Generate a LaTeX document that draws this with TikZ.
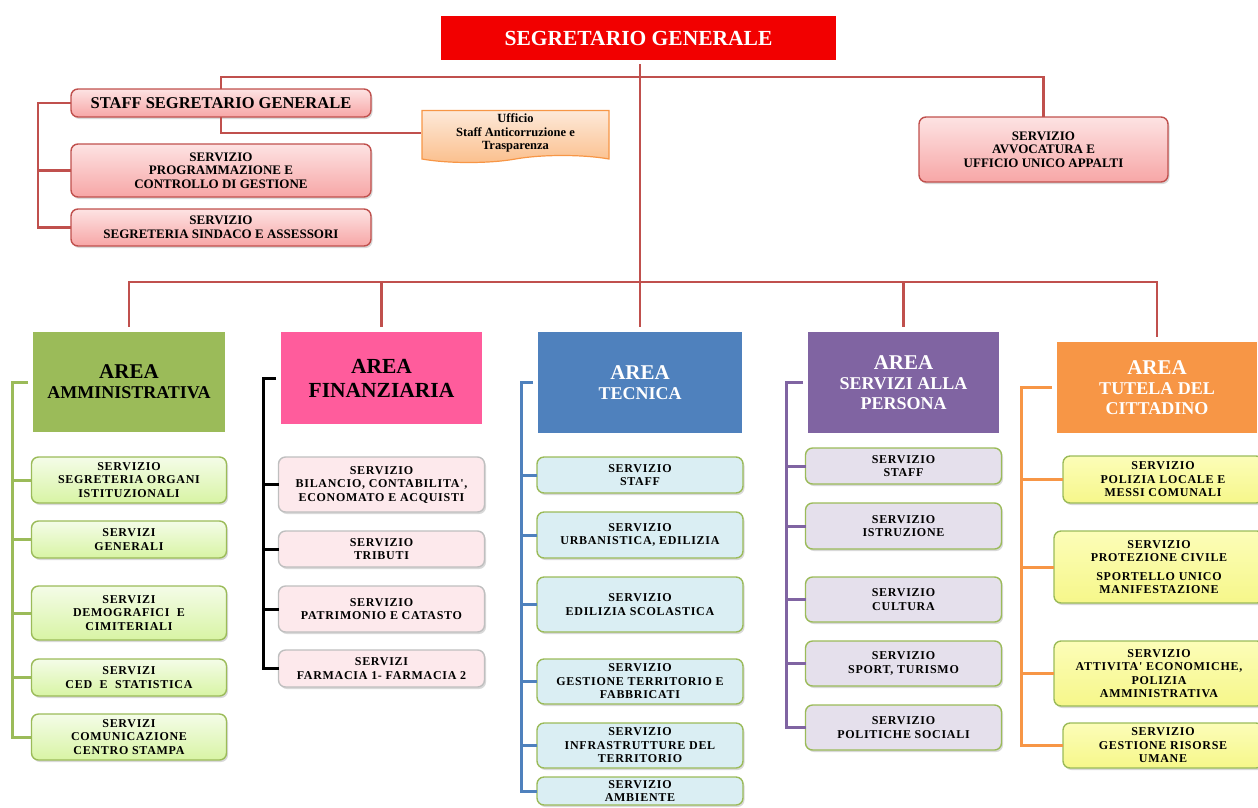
\documentclass[tikz,border=0pt]{standalone}
\usepackage{fontspec}
\setmainfont{Liberation Serif}
\newfontfamily\svcfont[LetterSpace=6]{Liberation Serif}
\usetikzlibrary{positioning, shadows, shapes.symbols}

\definecolor{sgred}{HTML}{F20000}
\definecolor{lnred}{HTML}{C0504D}
\definecolor{redlt}{HTML}{FDE3E3}
\definecolor{redmd}{HTML}{F7A6A6}
\definecolor{offlt}{HTML}{FDE9D9}
\definecolor{offmd}{HTML}{FBBF8C}
\definecolor{grn}{HTML}{9BBB59}
\definecolor{grnlt}{HTML}{F4FCE8}
\definecolor{grnmd}{HTML}{D8F4A4}
\definecolor{pnk}{HTML}{FF5C9C}
\definecolor{pnklt}{HTML}{FDE9EC}
\definecolor{blu}{HTML}{4F81BD}
\definecolor{blult}{HTML}{DAEEF3}
\definecolor{prp}{HTML}{8064A2}
\definecolor{prplt}{HTML}{E5E0EC}
\definecolor{orn}{HTML}{F79646}
\definecolor{ylwlt}{HTML}{FCFDB8}
\definecolor{ylwmd}{HTML}{F6F78A}

\newcommand{\areaword}{{\fontsize{21}{20}\selectfont AREA}}

\tikzset{%
	sgbox/.style={draw=white, line width=4pt, fill=sgred, text=white, minimum width=399pt,%
		minimum height=48pt, inner sep=0pt, font=\bfseries\fontsize{21.5}{24}\selectfont,%
		drop shadow={opacity=.35, shadow xshift=1pt, shadow yshift=-2pt}},
	area/.style={draw=white, line width=5pt, inner sep=0pt, align=center,%
		font=\bfseries\fontsize{18}{20}\selectfont,%
		drop shadow={opacity=.3, shadow xshift=1pt, shadow yshift=-2pt}},
	svc/.style={rounded corners=7pt, line width=1.4pt, inner sep=0pt, outer sep=0pt, align=center,%
		font=\svcfont\bfseries\fontsize{12}{13.5}\selectfont,%
		drop shadow={opacity=.3, shadow xshift=1.5pt, shadow yshift=-2pt}},
	amsvc/.style={svc, draw=grn, top color=grnlt, bottom color=grnmd, minimum width=195pt},
	finsvc/.style={svc, draw=black!25, fill=pnklt, minimum width=206pt},
	tecsvc/.style={svc, draw=grn, fill=blult, minimum width=206pt},
	persvc/.style={svc, draw=grn, fill=prplt, minimum width=196pt},
	tutsvc/.style={svc, draw=grn, top color=ylwlt, bottom color=ylwmd},
	topsvc/.style={svc, draw=lnred, top color=redlt, bottom color=redmd,%
		font=\bfseries\fontsize{13}{13.5}\selectfont},
	uffbox/.style={tape, tape bend top=none, tape bend height=7pt, draw=orn, line width=1.2pt,%
		top color=offlt, bottom color=offmd, inner sep=0pt, minimum width=187pt,%
		minimum height=52pt, align=center, font=\bfseries\fontsize{12.5}{13.5}\selectfont},
	redline/.style={draw=lnred, line width=2.6pt},
	brch/.style={line width=3pt}
}

\begin{document}
\begin{tikzpicture}[x=1pt, y=-1pt, node distance=19pt]
	\useasboundingbox (0,0) rectangle (1258,807);

	%top
	\node [sgbox] (sg) at (638.5,38) {SEGRETARIO GENERALE};
	\node [topsvc, minimum width=300pt, minimum height=28pt, font=\bfseries\fontsize{16.5}{17}\selectfont] (staff) at (221,103) {STAFF SEGRETARIO GENERALE};
	\node [topsvc, minimum width=300pt, minimum height=53pt, below=27pt of staff] (prog) {SERVIZIO\\PROGRAMMAZIONE E\\CONTROLLO DI GESTIONE};
	\node [topsvc, minimum width=300pt, minimum height=37pt, below=12pt of prog] (segr) {SERVIZIO\\SEGRETERIA SINDACO E ASSESSORI};
	\node [uffbox] (uff) at (515.5,133) {Ufficio\\Staff Anticorruzione e\\Trasparenza};
	\node [topsvc, minimum width=249pt, minimum height=65pt] (avv) at (1043.5,149.5) {SERVIZIO\\AVVOCATURA E\\UFFICIO UNICO APPALTI};

	%areas
	\node [area, fill=grn, minimum width=197pt, minimum height=105pt] (amm) at (129,382) {\areaword\\AMMINISTRATIVA};
	\node [area, fill=pnk, minimum width=206pt, minimum height=97pt, font=\bfseries\fontsize{21.5}{24}\selectfont] (fin) at (381.5,378) {AREA\\FINANZIARIA};
	\node [area, fill=blu, text=white, minimum width=209pt, minimum height=106pt] (tec) at (640,382.5) {\areaword\\TECNICA};
	\node [area, fill=prp, text=white, minimum width=196pt, minimum height=106pt] (per) at (903.5,382.5) {\areaword\\SERVIZI ALLA\\PERSONA};
	\node [area, fill=orn, text=white, minimum width=205pt, minimum height=96pt] (tut) at (1157,387.5) {\areaword\\TUTELA DEL\\CITTADINO};

	%amministrativa
	\node [amsvc, minimum height=46pt, below=20pt of amm] (a1) {SERVIZIO\\SEGRETERIA ORGANI\\ISTITUZIONALI};
	\node [amsvc, minimum height=37pt, below=18pt of a1] (a2) {SERVIZI\\GENERALI};
	\node [amsvc, minimum height=54pt, below=28pt of a2] (a3) {SERVIZI\\DEMOGRAFICI~~E\\CIMITERIALI};
	\node [amsvc, minimum height=37pt, below=of a3] (a4) {SERVIZI\\CED~~E~~STATISTICA};
	\node [amsvc, minimum height=46pt, below=18pt of a4] (a5) {SERVIZI\\COMUNICAZIONE\\CENTRO STAMPA};

	%finanziaria
	\node [finsvc, minimum height=55pt, below=28pt of fin] (f1) {SERVIZIO\\BILANCIO, CONTABILITA',\\ECONOMATO E ACQUISTI};
	\node [finsvc, minimum height=36pt, below=of f1] (f2) {SERVIZIO\\TRIBUTI};
	\node [finsvc, minimum height=46pt, below=of f2] (f3) {SERVIZIO\\PATRIMONIO E CATASTO};
	\node [finsvc, minimum height=37pt, below=18pt of f3] (f4) {SERVIZI\\FARMACIA 1- FARMACIA 2};

	%tecnica
	\node [tecsvc, minimum height=36pt, below=of tec] (t1) {SERVIZIO\\STAFF};
	\node [tecsvc, minimum height=46pt, below=of t1] (t2) {SERVIZIO\\URBANISTICA, EDILIZIA};
	\node [tecsvc, minimum height=55pt, below=of t2] (t3) {SERVIZIO\\EDILIZIA SCOLASTICA};
	\node [tecsvc, minimum height=45pt, below=27pt of t3] (t4) {SERVIZIO\\GESTIONE TERRITORIO E\\FABBRICATI};
	\node [tecsvc, minimum height=45pt, below=of t4] (t5) {SERVIZIO\\INFRASTRUTTURE DEL\\TERRITORIO};
	\node [tecsvc, minimum height=28pt, below=9pt of t5] (t6) {SERVIZIO\\AMBIENTE};

	%persona
	\node [persvc, minimum height=36pt, below=10pt of per] (p1) {SERVIZIO\\STAFF};
	\node [persvc, minimum height=46pt, below=of p1] (p2) {SERVIZIO\\ISTRUZIONE};
	\node [persvc, minimum height=45pt, below=28pt of p2] (p3) {SERVIZIO\\CULTURA};
	\node [persvc, minimum height=45pt, below=of p3] (p4) {SERVIZIO\\SPORT, TURISMO};
	\node [persvc, minimum height=45pt, below=of p4] (p5) {SERVIZIO\\POLITICHE SOCIALI};

	%tutela
	\node [tutsvc, minimum width=200pt, minimum height=47pt, below=18pt of tut, xshift=6pt] (o1) {SERVIZIO\\POLIZIA LOCALE E\\MESSI COMUNALI};
	\node [tutsvc, minimum width=210pt, minimum height=72pt, below=28pt of o1, xshift=-4pt] (o2) {SERVIZIO\\PROTEZIONE CIVILE\\[5pt]SPORTELLO UNICO\\MANIFESTAZIONE};
	\node [tutsvc, minimum width=210pt, minimum height=65pt, below=38pt of o2] (o3) {SERVIZIO\\ATTIVITA' ECONOMICHE,\\POLIZIA\\AMMINISTRATIVA};
	\node [tutsvc, minimum width=200pt, minimum height=45pt, below=17pt of o3, xshift=4pt] (o4) {SERVIZIO\\GESTIONE RISORSE\\UMANE};

	\coordinate (top) at (640,77);
	\coordinate (hub) at (640,282);
	\coordinate (sx) at (38,0);
	\coordinate (ax) at (12,0);
	\coordinate (fx) at (263,0);
	\coordinate (tx) at (521,0);
	\coordinate (px) at (786,0);
	\coordinate (ox) at (1021,0);

	%red lines
	\draw [redline] (sg.south -| hub) -- (hub);
	\draw [redline] (staff.north) |- (top) -| (avv.north);
	\draw [redline] (staff.west) -- (staff.west -| sx) |- (segr.west);
	\draw [redline] (prog.west) -- (prog.west -| sx);
	\draw [redline] (staff.south) |- (uff.west);
	\foreach \n in {amm,fin,tec,per,tut}
		\draw [redline] (hub) -| (\n.north);

	%branches
	\draw [brch, grn] (amm.west) -- (amm.west -| ax) |- (a5.west);
	\foreach \n in {a1,a2,a3,a4}
		\draw [brch, grn] (\n.west) -- (\n.west -| ax);
	\draw [brch, black] (fin.west) -- (fin.west -| fx) |- (f4.west);
	\foreach \n in {f1,f2,f3}
		\draw [brch, black] (\n.west) -- (\n.west -| fx);
	\draw [brch, blu] (tec.west) -- (tec.west -| tx) |- (t6.west);
	\foreach \n in {t1,t2,t3,t4,t5}
		\draw [brch, blu] (\n.west) -- (\n.west -| tx);
	\draw [brch, prp] (per.west) -- (per.west -| px) |- (p5.west);
	\foreach \n in {p1,p2,p3,p4}
		\draw [brch, prp] (\n.west) -- (\n.west -| px);
	\draw [brch, orn] (tut.west) -- (tut.west -| ox) |- (o4.west);
	\foreach \n in {o1,o2,o3}
		\draw [brch, orn] (\n.west) -- (\n.west -| ox);
\end{tikzpicture}
\end{document}
